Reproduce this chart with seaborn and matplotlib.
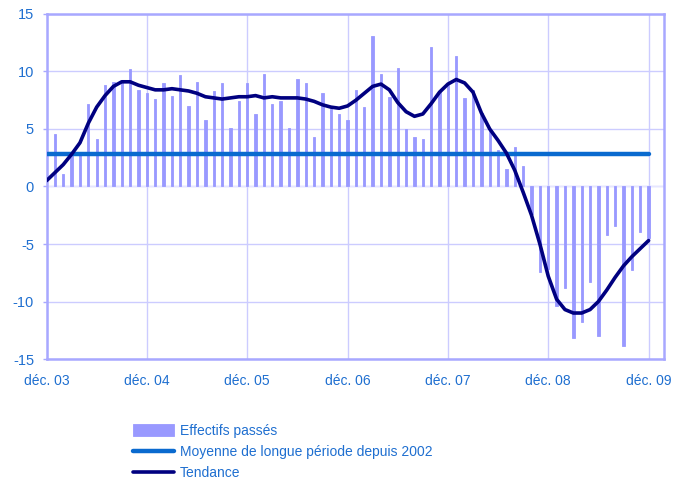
import numpy as np
import pandas as pd
import matplotlib
matplotlib.use("Agg")
import matplotlib.pyplot as plt
import seaborn as sns

# monthly values, déc. 03 -> déc. 09
effectifs = [np.nan,
             4.6, 1.1, 2.7, 2.7, 7.2, 4.1, 8.8, 9.1, 9.1, 10.2, 8.4, 8.1,
             7.6, 9.0, 7.9, 9.7, 7.0, 9.1, 5.8, 8.3, 9.0, 5.1, 7.4, 9.0,
             6.3, 9.8, 7.2, 7.4, 5.1, 9.3, 9.0, 4.3, 8.1, 6.7, 6.3, 5.8,
             8.4, 6.9, 13.1, 9.8, 7.8, 10.3, 5.0, 4.3, 4.1, 12.1, 8.2, 8.8,
             11.3, 7.7, 8.4, 6.4, 5.0, 3.2, 1.5, 3.4, 1.8, -2.4, -7.4, -7.2,
             -10.4, -8.8, -13.2, -11.8, -8.3, -13.0, -4.2, -3.4, -13.9, -7.3, -4.0, -4.5]
tendance = [0.5,
            1.2, 1.9, 2.8, 3.8, 5.5, 6.9, 7.9, 8.7, 9.1, 9.1, 8.8, 8.6,
            8.4, 8.4, 8.5, 8.4, 8.3, 8.1, 7.8, 7.7, 7.6, 7.7, 7.8, 7.8,
            7.9, 7.7, 7.8, 7.7, 7.7, 7.7, 7.6, 7.4, 7.1, 6.9, 6.8, 7.0,
            7.5, 8.1, 8.7, 8.9, 8.4, 7.3, 6.5, 6.1, 6.3, 7.2, 8.2, 8.9,
            9.3, 9.0, 8.2, 6.4, 5.0, 4.0, 2.9, 1.4, -0.5, -2.5, -5.0, -7.8,
            -9.8, -10.7, -11.0, -11.0, -10.7, -10.0, -9.0, -7.9, -6.9, -6.1, -5.4, -4.7]
moyenne_val = 2.85
tick_labels = ["déc. 03", "déc. 04", "déc. 05", "déc. 06", "déc. 07", "déc. 08", "déc. 09"]

df = pd.DataFrame({"mois": np.arange(len(effectifs)),
                   "effectifs": effectifs,
                   "tendance": tendance})
df["moyenne"] = moyenne_val

sns.set_style("white")
plt.rcParams["font.family"] = ["Liberation Sans", "DejaVu Sans"]
plt.rcParams["axes.unicode_minus"] = False

txt_col = "#1F6FD0"
grid_col = "#CCCCFF"
bar_col = "#9999FF"

fig = plt.figure(figsize=(6.88, 4.8), dpi=100)
ax = fig.add_axes([0.0676, 0.252, 0.897, 0.719])

sns.barplot(data=df.dropna(), x="mois", y="effectifs", native_scale=True,
            width=0.28, color=bar_col, saturation=1, errorbar=None,
            edgecolor=bar_col, linewidth=0.6,
            label="Effectifs passés", ax=ax, zorder=2)
sns.lineplot(data=df, x="mois", y="moyenne", color="#0A6ACF", lw=3.2,
             label="Moyenne de longue période depuis 2002", ax=ax, zorder=3)
sns.lineplot(data=df, x="mois", y="tendance", color="#000080", lw=2.6,
             label="Tendance", ax=ax, zorder=4)

ax.set_xlim(0, 73.8)
ax.set_ylim(-15, 15)
ax.set_yticks(range(-15, 16, 5))
ax.set_xticks(range(0, 73, 12))
ax.set_xticklabels(tick_labels)
ax.set_xlabel("")
ax.set_ylabel("")
ax.grid(True, color=grid_col, lw=1)
ax.set_axisbelow(True)
ax.axhline(0, color="#E6E6FF", lw=1, zorder=1)
for s in ax.spines.values():
    s.set_color("#A8A8FF")
    s.set_linewidth(1.8)

ax.tick_params(axis="y", colors=txt_col, labelsize=10.5, length=3, width=1,
               color="#A8A8FF", direction="out", pad=6, left=True)
ax.tick_params(axis="x", colors=txt_col, labelsize=10, length=0, pad=11)

h, l = ax.get_legend_handles_labels()
order = [l.index("Effectifs passés"),
         l.index("Moyenne de longue période depuis 2002"),
         l.index("Tendance")]
ax.legend([h[i] for i in order], [l[i] for i in order],
          loc="upper left", bbox_to_anchor=(133 / 688, 0.117),
          bbox_transform=fig.transFigure, frameon=False, fontsize=10,
          labelcolor=txt_col, handlelength=2.95, handleheight=0.85,
          handletextpad=0.45, labelspacing=0.5, borderpad=0, borderaxespad=0)

fig.savefig("out.png", dpi=100)
